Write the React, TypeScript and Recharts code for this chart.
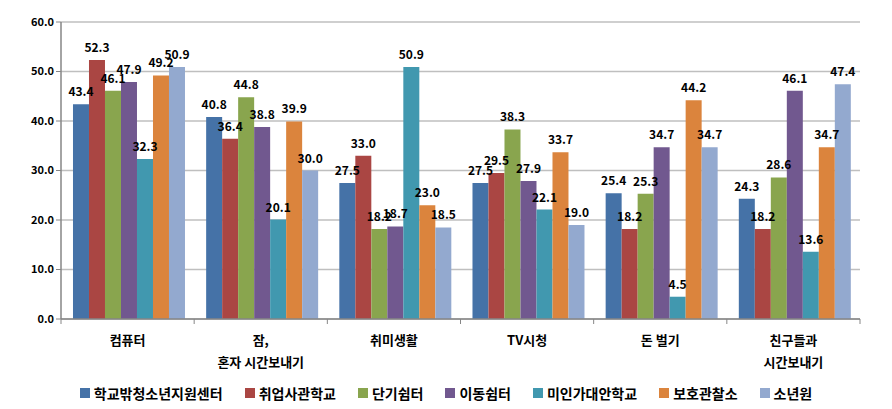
import { BarChart, Bar, XAxis, YAxis, CartesianGrid, LabelList } from 'recharts';

const categories = ['컴퓨터', '잠,\n혼자 시간보내기', '취미생활', 'TV시청', '돈 벌기', '친구들과\n시간보내기'];
const seriesNames = ['학교밖청소년지원센터', '취업사관학교', '단기쉼터', '이동쉼터', '미인가대안학교', '보호관찰소', '소년원'];
const centerValues = [43.4, 40.8, 27.5, 27.5, 25.4, 24.3];
const academyValues = [52.3, 36.4, 33.0, 29.5, 18.2, 18.2];
const shortShelterValues = [46.1, 44.8, 18.2, 38.3, 25.3, 28.6];
const mobileShelterValues = [47.9, 38.8, 18.7, 27.9, 34.7, 46.1];
const altSchoolValues = [32.3, 20.1, 50.9, 22.1, 4.5, 13.6];
const probationValues = [49.2, 39.9, 23.0, 33.7, 44.2, 34.7];
const juvenileValues = [50.9, 30.0, 18.5, 19.0, 34.7, 47.4];
const yTicks = [0, 10, 20, 30, 40, 50, 60];

const seriesValues = [
  centerValues,
  academyValues,
  shortShelterValues,
  mobileShelterValues,
  altSchoolValues,
  probationValues,
  juvenileValues,
];
const COLORS = ['#4572A7', '#AA4643', '#89A54E', '#71588F', '#4198AF', '#DB843D', '#93A9CF'];

const data = categories.map((name, i) => {
  const row: Record<string, string | number> = { name };
  seriesNames.forEach((s, j) => {
    row[s] = seriesValues[j][i];
  });
  return row;
});

const FONT = "'Noto Sans CJK KR', sans-serif";
const WIDTH = 892;
const HEIGHT = 409;
const MARGIN = { top: 22, right: 32, left: 11, bottom: 30 };
const Y_WIDTH = 50;
const BAND = (WIDTH - MARGIN.left - MARGIN.right - Y_WIDTH) / categories.length;

// category labels, with small boundary ticks like the original axis
function CategoryTick({ x, y, payload, index }: any) {
  const lines = String(payload.value).split('\n');
  return (
    <g>
      <line x1={x - BAND / 2} y1={y - 8} x2={x - BAND / 2} y2={y - 3} stroke="#868686" />
      {index === categories.length - 1 && (
        <line x1={x + BAND / 2} y1={y - 8} x2={x + BAND / 2} y2={y - 3} stroke="#868686" />
      )}
      {lines.map((line, i) => (
        <text
          key={i}
          x={x}
          y={y + 18 + i * 22}
          textAnchor="middle"
          fontFamily={FONT}
          fontWeight="bold"
          fontSize={13}
          fill="#000"
        >
          {line}
        </text>
      ))}
    </g>
  );
}

function Legend() {
  return (
    <div
      style={{
        position: 'absolute',
        top: 383,
        left: 0,
        width: WIDTH,
        display: 'flex',
        justifyContent: 'center',
        gap: 22,
        fontFamily: FONT,
        fontWeight: 'bold',
        fontSize: 14,
        color: '#000',
      }}
    >
      {seriesNames.map((s, i) => (
        <div key={s} style={{ display: 'flex', alignItems: 'center', gap: 4 }}>
          <span style={{ width: 10, height: 10, background: COLORS[i], display: 'inline-block' }} />
          <span>{s}</span>
        </div>
      ))}
    </div>
  );
}

export default function App() {
  return (
    <div style={{ position: 'absolute', left: 0, top: 0, width: WIDTH, height: HEIGHT, background: '#fff' }}>
      <BarChart width={WIDTH} height={HEIGHT} data={data} margin={MARGIN} barCategoryGap="9%" barGap={0}>
        <CartesianGrid vertical={false} stroke="#BFBFBF" strokeWidth={1.5} />
        <XAxis
          dataKey="name"
          tick={<CategoryTick />}
          tickLine={false}
          axisLine={{ stroke: '#868686', strokeWidth: 1.5 }}
          interval={0}
          height={60}
        />
        <YAxis
          domain={[0, 60]}
          ticks={yTicks}
          width={Y_WIDTH}
          tickFormatter={(v: number) => v.toFixed(1)}
          tick={{ fontFamily: FONT, fontWeight: 'bold', fontSize: 11, fill: '#000' }}
          tickLine={{ stroke: '#868686' }}
          tickSize={5}
          axisLine={{ stroke: '#868686', strokeWidth: 1.5 }}
        />
        {seriesNames.map((s, i) => (
          <Bar key={s} dataKey={s} fill={COLORS[i]} isAnimationActive={false}>
            <LabelList
              dataKey={s}
              position="top"
              offset={8}
              formatter={(v: any) => Number(v).toFixed(1)}
              style={{ fontFamily: FONT, fontWeight: 'bold', fontSize: 12, fill: '#000' }}
            />
          </Bar>
        ))}
      </BarChart>
      <Legend />
    </div>
  );
}
